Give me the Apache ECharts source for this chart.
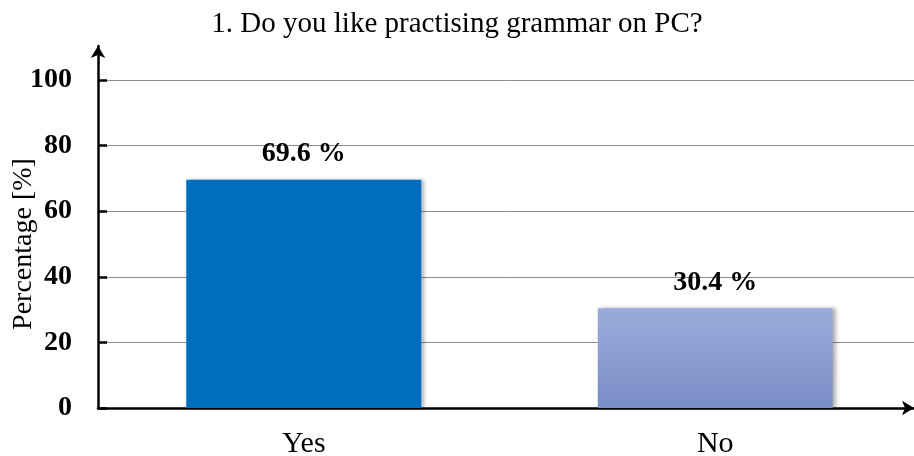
<!DOCTYPE html>
<html>
<head>
<meta charset="utf-8">
<script src="https://cdn.jsdelivr.net/npm/echarts@6/dist/echarts.min.js"></script>
<style>html,body{margin:0;padding:0;background:#fff}#c{width:914px;height:456px}</style>
</head>
<body>
<div id="c"></div>
<script>
var titleText = '1. Do you like practising grammar on PC?';
var categories = ['Yes', 'No'];
var values = [69.6, 30.4];
var yTicks = [0, 20, 40, 60, 80, 100];
var yName = 'Percentage [%]';

var serif = '"Liberation Serif", "Times New Roman", serif';
var chart = echarts.init(document.getElementById('c'), null, {renderer: 'canvas'});

var barColors = [
  '#006EBE',
  new echarts.graphic.LinearGradient(0, 0, 0, 1, [
    {offset: 0, color: '#9BABDB'},
    {offset: 1, color: '#798DC5'}
  ])
];

chart.setOption({
  animation: false,
  backgroundColor: '#fff',
  title: {
    text: titleText, left: 'center', top: 5,
    textStyle: {fontFamily: serif, fontSize: 29, fontWeight: 'normal', color: '#000'}
  },
  grid: [
    {left: 98, width: 823, top: 80, bottom: 48, containLabel: false, outerBoundsMode: 'none'},
    {left: 98, right: 0, top: 46, bottom: 48, containLabel: false, outerBoundsMode: 'none'}
  ],
  xAxis: [
    {
      type: 'category', gridIndex: 0, data: categories,
      axisLine: {show: false}, axisTick: {show: false},
      axisLabel: {fontFamily: serif, fontSize: 30, color: '#000', margin: 21}
    },
    {
      type: 'value', gridIndex: 1, min: 0, max: 1, show: true,
      axisLine: {show: true, lineStyle: {color: '#000', width: 2.5}, symbol: ['none', 'arrow'], symbolSize: [11, 12]},
      axisTick: {show: false}, axisLabel: {show: false}, splitLine: {show: false}
    }
  ],
  yAxis: [
    {
      type: 'value', gridIndex: 0, min: yTicks[0], max: yTicks[yTicks.length - 1], interval: 20,
      name: yName, nameLocation: 'middle', nameGap: 60, nameMoveOverlap: false,
      nameTextStyle: {fontFamily: serif, fontSize: 28, color: '#000'},
      axisLine: {show: false},
      axisTick: {show: true, inside: true, length: 9, lineStyle: {color: '#000', width: 2.5}},
      axisLabel: {fontFamily: serif, fontSize: 28, fontWeight: 'bold', color: '#000', margin: 26},
      splitLine: {show: true, lineStyle: {color: '#8c8c8c', width: 1}}
    },
    {
      type: 'value', gridIndex: 1, min: 0, max: 1,
      axisLine: {show: true, lineStyle: {color: '#000', width: 2.5}, symbol: ['none', 'arrow'], symbolSize: [11, 12]},
      axisTick: {show: false}, axisLabel: {show: false}, splitLine: {show: false}
    }
  ],
  series: [{
    type: 'bar', xAxisIndex: 0, yAxisIndex: 0,
    barWidth: 235,
    data: values.map(function (v, i) {
      return {value: v, itemStyle: {color: barColors[i]}};
    }),
    itemStyle: {shadowColor: 'rgba(0,0,0,0.3)', shadowBlur: 4, shadowOffsetX: 3},
    label: {
      show: true, position: 'top', distance: 12,
      formatter: function (p) { return p.value.toFixed(1) + ' %'; },
      fontFamily: serif, fontSize: 28, fontWeight: 'bold', color: '#000'
    }
  }]
});
</script>
</body>
</html>
